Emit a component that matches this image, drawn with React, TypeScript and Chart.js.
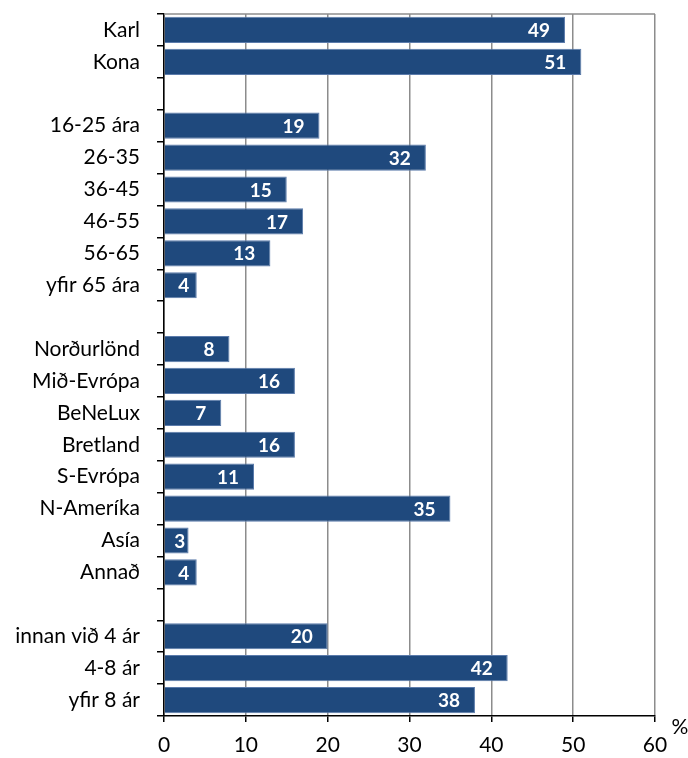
import React, { useEffect, useRef } from "react";
import { Chart, registerables } from "chart.js";

Chart.register(...registerables);

const categories: string[] = [
  "Karl", "Kona", "",
  "16-25 ára", "26-35", "36-45", "46-55", "56-65", "yfir 65 ára", "",
  "Norðurlönd", "Mið-Evrópa", "BeNeLux", "Bretland", "S-Evrópa", "N-Ameríka", "Asía", "Annað", "",
  "innan við 4 ár", "4-8 ár", "yfir 8 ár",
];
const values: (number | null)[] = [
  49, 51, null,
  19, 32, 15, 17, 13, 4, null,
  8, 16, 7, 16, 11, 35, 3, 4, null,
  20, 42, 38,
];
const xTicks: number[] = [0, 10, 20, 30, 40, 50, 60];
const unitLabel = "%";

const FONT = "Lato, 'Open Sans', sans-serif";

const decorPlugin = {
  id: "decor",
  afterDatasetsDraw(chart: any) {
    const ctx = chart.ctx;
    const area = chart.chartArea;
    ctx.save();
    ctx.strokeStyle = "#8c8c8c";
    ctx.lineWidth = 1.5;
    ctx.beginPath();
    ctx.moveTo(area.left, area.top);
    ctx.lineTo(area.right, area.top);
    ctx.stroke();
    const meta = chart.getDatasetMeta(0);
    ctx.fillStyle = "#ffffff";
    ctx.font = `bold 19px ${FONT}`;
    ctx.textBaseline = "middle";
    ctx.textAlign = "center";
    meta.data.forEach((el: any, i: number) => {
      const v = values[i];
      if (v === null || v === undefined) return;
      const txt = String(v);
      const w = ctx.measureText(txt).width;
      const end = el.x;
      const base = el.base;
      const cx = Math.max(end - 15 - w / 2, (base + end) / 2 + 3);
      ctx.fillText(txt, cx, el.y + 1);
    });
    ctx.fillStyle = "#000000";
    ctx.font = `21px ${FONT}`;
    ctx.textAlign = "center";
    ctx.fillText(unitLabel, area.right + 25, area.bottom + 11);
    ctx.restore();
  },
};

export default function App() {
  const ref = useRef<HTMLCanvasElement | null>(null);
  useEffect(() => {
    if (!ref.current) return;
    const chart = new Chart(ref.current, {
      type: "bar",
      data: {
        labels: categories,
        datasets: [
          {
            data: values as any,
            backgroundColor: "#1f497d",
            borderColor: "#5b7bab",
            borderWidth: 1,
            barPercentage: 0.82,
            categoryPercentage: 1,
          },
        ],
      },
      options: {
        indexAxis: "y",
        animation: false,
        responsive: false,
        maintainAspectRatio: false,
        layout: { padding: { left: 0, right: 33, top: 14, bottom: 0 } },
        plugins: {
          legend: { display: false },
          tooltip: { enabled: false },
        },
        scales: {
          x: {
            type: "linear",
            min: 0,
            max: 60,
            afterBuildTicks: (scale: any) => {
              scale.ticks = xTicks.map((v) => ({ value: v }));
            },
            afterFit: (scale: any) => {
              scale.height = 42;
              scale.paddingLeft = 0;
              scale.paddingRight = 0;
            },
            ticks: {
              color: "#000000",
              font: { family: FONT, size: 21 },
              padding: 11,
            },
            grid: {
              color: "#8c8c8c",
              lineWidth: 1.5,
              tickColor: "#000000",
              tickLength: 6,
            },
            border: { color: "#000000", width: 1.5 },
          },
          y: {
            type: "category",
            offset: true,
            afterFit: (scale: any) => {
              scale.width = 164;
              scale.paddingTop = 0;
              scale.paddingBottom = 0;
            },
            ticks: {
              color: "#000000",
              font: { family: FONT, size: 21 },
              padding: 17,
              autoSkip: false,
            },
            grid: {
              offset: true,
              drawOnChartArea: false,
              color: "#000000",
              tickLength: 7,
              lineWidth: 1.5,
            },
            border: { color: "#000000", width: 1.5 },
          },
        },
      },
      plugins: [decorPlugin],
    });
    return () => chart.destroy();
  }, []);
  return (
    <div style={{ position: "fixed", left: 0, top: 0, width: 688, height: 758, background: "#fff" }}>
      <canvas ref={ref} width={688} height={758} style={{ width: 688, height: 758 }} />
    </div>
  );
}
